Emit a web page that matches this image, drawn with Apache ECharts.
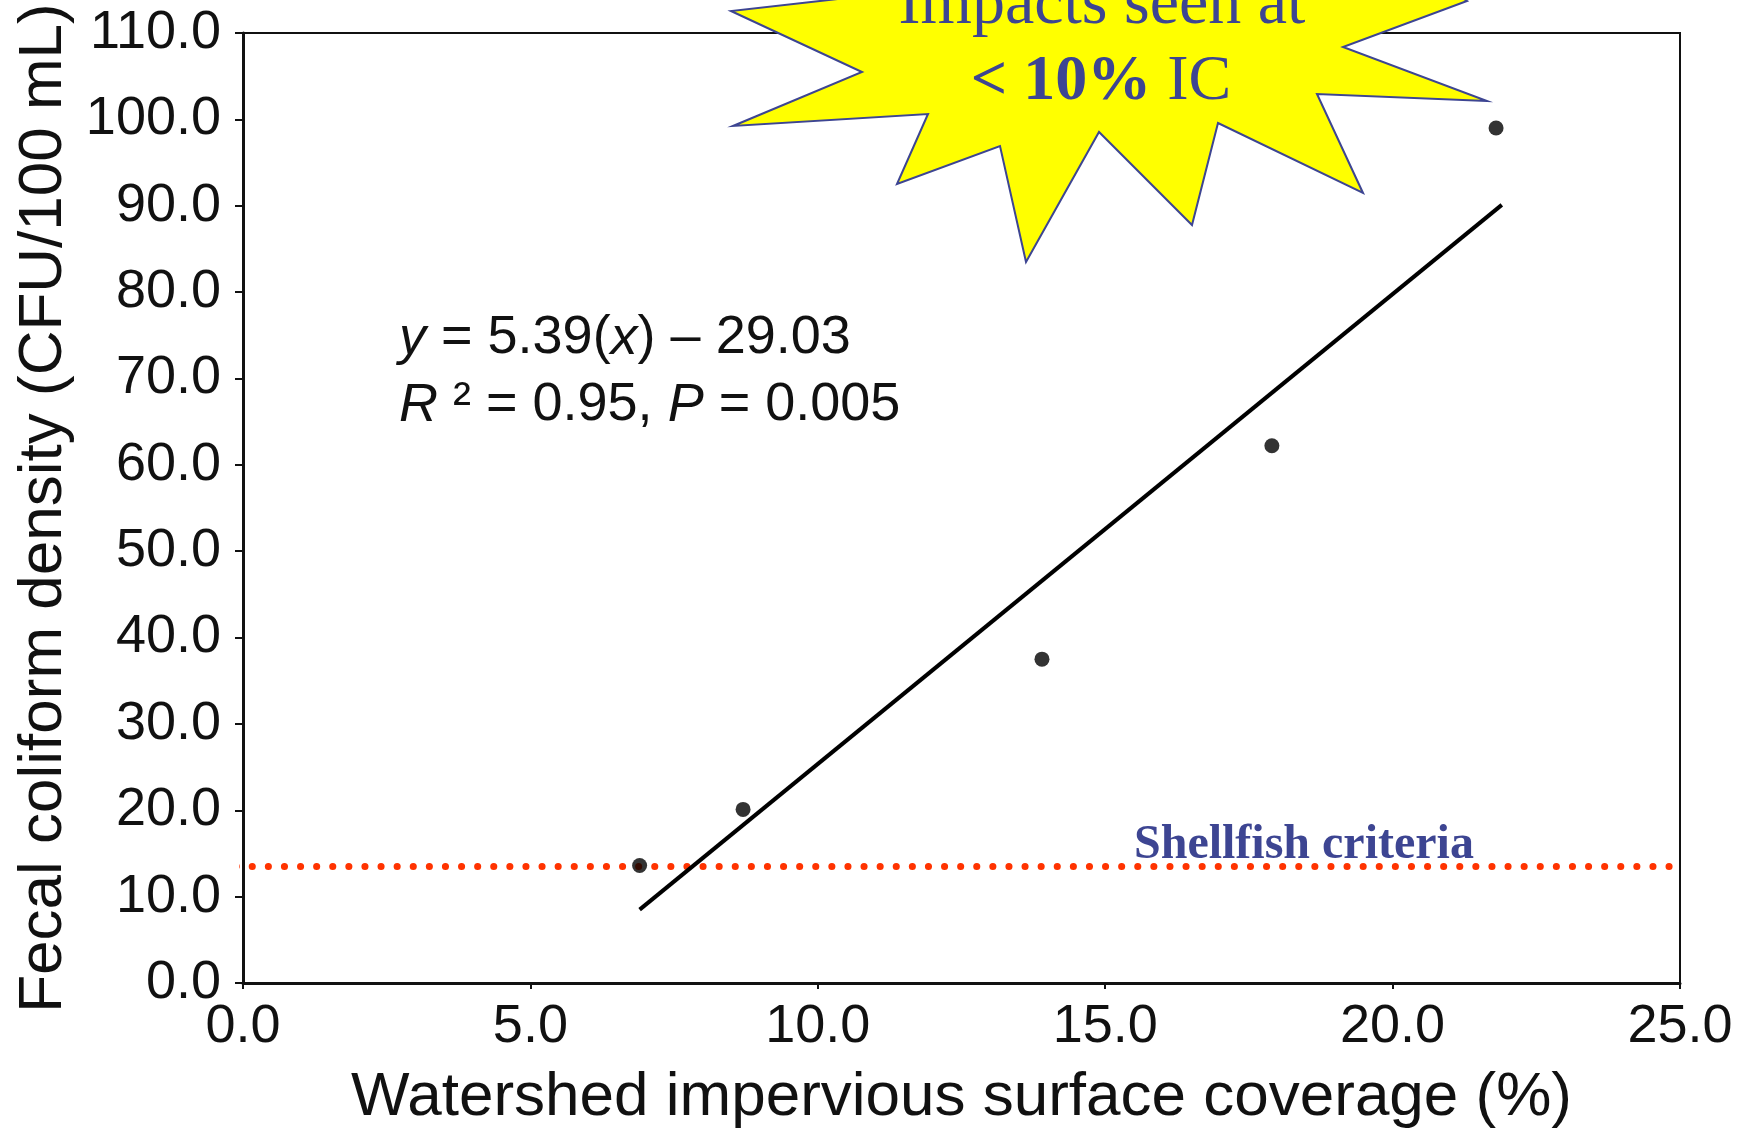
<!DOCTYPE html>
<html>
<head>
<meta charset="utf-8">
<script src="https://cdn.jsdelivr.net/npm/echarts@6/dist/echarts.min.js"></script>
<style>
  html, body { margin: 0; padding: 0; background: #fff; }
  #chart-fc { width: 1749px; height: 1134px; }
</style>
</head>
<body>
<div id="chart-fc"></div>
<script>
// measured points
var coverage = [6.9, 8.7, 13.9, 17.9, 21.8];
var coliform = [13.6, 20.1, 37.5, 62.2, 99.0];
// regression line ends
var fitX = [6.9, 21.9];
var fitY = [8.5, 90.1];
// shellfish criteria level (dotted red)
var criteriaX = [-0.4, 24.9];
var criteriaY = [13.5, 13.5];
// axis ticks
var xTicks = [0, 5, 10, 15, 20, 25];
var yTicks = [0, 10, 20, 30, 40, 50, 60, 70, 80, 90, 100, 110];

var navy = '#3d4592';

function pairs(xs, ys) {
	var out = [];
	for (var i = 0; i < xs.length; i++) {
		out.push([xs[i], ys[i]]);
	}
	return out;
}

// starburst outline (annotation, pixel coords)
var star = [[731, 11], [862, 72], [733, 126], [928, 114], [897, 184], [1000, 146],
	[1026, 262], [1099, 132], [1192, 225], [1218, 123], [1363, 193], [1317, 94],
	[1487, 101], [1343, 47], [1467, 1], [1400, -40], [1420, -150], [1100, -60],
	[830, -150], [900, -8]];

var option = {
	backgroundColor: '#fff',
	animation: false,
	grid: {
		left: 243,
		right: 69,
		top: 33,
		bottom: 148,
		show: true,
		borderColor: '#111',
		borderWidth: 2
	},
	xAxis: {
		type: 'value',
		min: xTicks[0],
		max: xTicks[xTicks.length - 1],
		interval: 5,
		name: 'Watershed impervious surface coverage (%)',
		nameLocation: 'middle',
		nameGap: 84,
		nameTextStyle: { fontFamily: 'Liberation Sans', fontSize: 62, color: '#111' },
		axisLine: { lineStyle: { color: '#111', width: 3 } },
		axisTick: { show: true, length: 6, lineStyle: { color: '#111', width: 2 } },
		splitLine: { show: false },
		axisLabel: {
			margin: 17,
			fontFamily: 'Liberation Sans',
			fontSize: 54,
			color: '#111',
			formatter: function(v) { return v.toFixed(1); }
		}
	},
	yAxis: {
		type: 'value',
		min: yTicks[0],
		max: yTicks[yTicks.length - 1],
		interval: 10,
		name: 'Fecal coliform density (CFU/100 mL)',
		nameLocation: 'middle',
		nameGap: 168,
		nameTextStyle: { fontFamily: 'Liberation Sans', fontSize: 62, color: '#111' },
		axisLine: { lineStyle: { color: '#111', width: 3 } },
		axisTick: { show: true, length: 8, lineStyle: { color: '#111', width: 2 } },
		splitLine: { show: false },
		axisLabel: {
			margin: 22,
			fontFamily: 'Liberation Sans',
			fontSize: 54,
			color: '#111',
			formatter: function(v) { return v.toFixed(1); }
		}
	},
	series: [{
		name: 'criteria',
		type: 'line',
		data: pairs(criteriaX, criteriaY),
		symbol: 'none',
		clip: false,
		lineStyle: { color: '#ff3300', width: 7, type: [0.1, 16], cap: 'round' },
		z: 2
	}, {
		name: 'fit',
		type: 'line',
		data: pairs(fitX, fitY),
		symbol: 'none',
		lineStyle: { color: '#000', width: 4 },
		z: 3
	}, {
		name: 'sites',
		type: 'scatter',
		data: pairs(coverage, coliform),
		symbol: 'circle',
		symbolSize: 15,
		itemStyle: { color: '#000' },
		z: 4
	}],
	graphic: [{
		type: 'text',
		left: 399,
		top: 305,
		z: 10,
		style: {
			text: '{i|y} = 5.39({i|x}) \u2013 29.03\n{i|R} \u00b2 = 0.95, {i|P} = 0.005',
			fontFamily: 'Liberation Sans',
			fontSize: 54,
			lineHeight: 67,
			fill: '#111',
			rich: {
				i: { fontFamily: 'Liberation Sans', fontSize: 54, fontStyle: 'italic', fill: '#111' }
			}
		}
	}, {
		type: 'text',
		left: 1134,
		top: 822,
		z: 10,
		style: {
			text: 'Shellfish criteria',
			fontFamily: 'Liberation Serif',
			fontWeight: 'bold',
			fontSize: 48,
			fill: navy
		}
	}, {
		type: 'polygon',
		z: 20,
		shape: { points: star },
		style: { fill: '#ffff00', stroke: navy, lineWidth: 2 }
	}, {
		type: 'text',
		z: 21,
		x: 1102,
		y: 6,
		style: {
			text: 'Impacts seen at',
			fontFamily: 'Liberation Serif',
			fontSize: 66,
			fill: navy,
			align: 'center',
			verticalAlign: 'middle'
		}
	}, {
		type: 'text',
		z: 21,
		x: 1101,
		y: 82,
		style: {
			text: '{b|< 10%} IC',
			fontFamily: 'Liberation Serif',
			fontSize: 64,
			fill: navy,
			align: 'center',
			verticalAlign: 'middle',
			rich: {
				b: { fontFamily: 'Liberation Serif', fontSize: 64, fontWeight: 'bold', fill: navy }
			}
		}
	}]
};

var myChart = echarts.init(document.getElementById('chart-fc'));
myChart.setOption(option);
window.onresize = myChart.resize;
</script>
</body>
</html>
